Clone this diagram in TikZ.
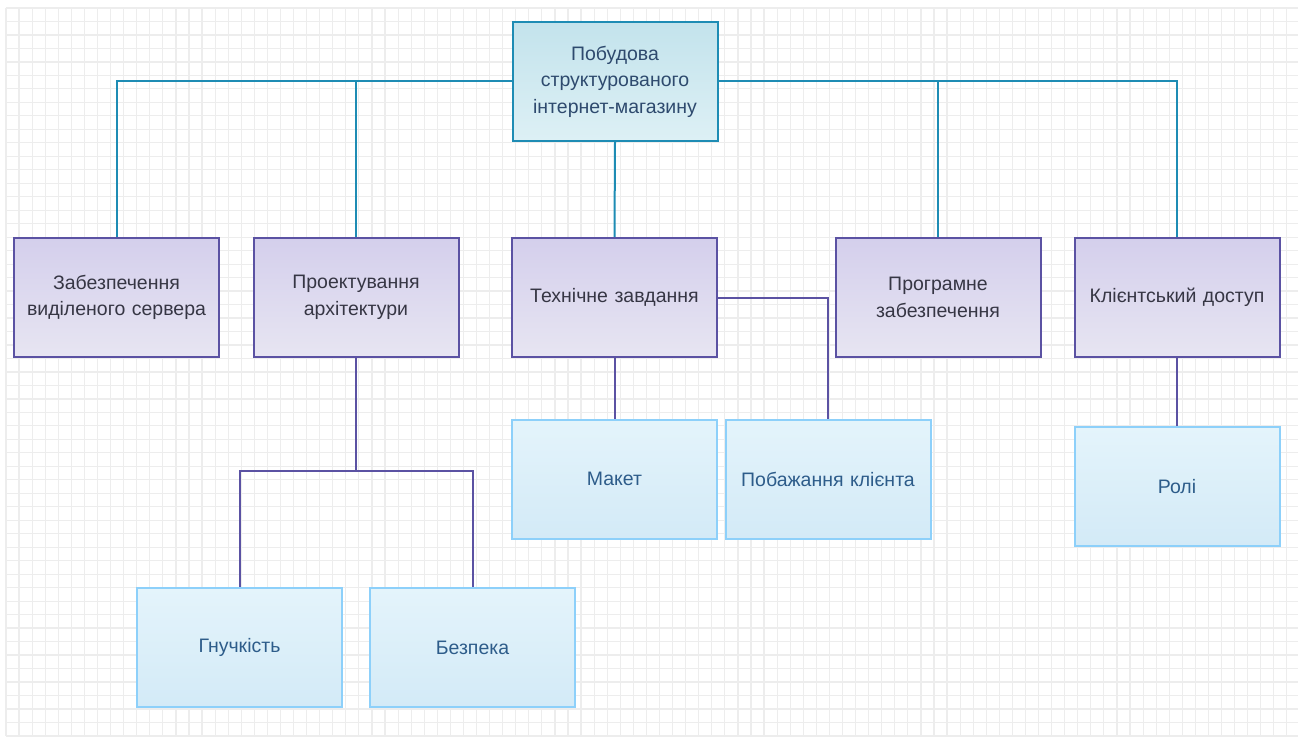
\documentclass[tikz,border=0pt]{standalone}
\usepackage{fontspec}
\setmainfont{Liberation Sans}
\begin{document}
\begin{tikzpicture}[x=1pt,y=-1pt,
  every node/.style={inner sep=0pt, align=center, font=\fontsize{19.5}{26.5}\selectfont},
  box/.style={draw, line width=2pt, minimum width=205pt, minimum height=119pt, text width=202pt},
  rootbox/.style={box, draw=rootline, top color=rootA, bottom color=rootB, text=roottext},
  midbox/.style={box, draw=midline, top color=midA, bottom color=midB, text=midtext},
  leafbox/.style={box, draw=leafline, top color=leafA, bottom color=leafB, text=leaftext},
  tealwire/.style={draw=rootline, line width=2pt},
  purplewire/.style={draw=midline, line width=2pt}]
\definecolor{rootline}{HTML}{1E8CB4}
\definecolor{rootA}{HTML}{C3E3EC}
\definecolor{rootB}{HTML}{DDF0F5}
\definecolor{roottext}{HTML}{2E4A6E}
\definecolor{midline}{HTML}{5B52A3}
\definecolor{midA}{HTML}{D4CFEC}
\definecolor{midB}{HTML}{E7E5F2}
\definecolor{midtext}{HTML}{363644}
\definecolor{leafline}{HTML}{8DD0FA}
\definecolor{leafA}{HTML}{E4F4FB}
\definecolor{leafB}{HTML}{D3EAF7}
\definecolor{leaftext}{HTML}{2D5C8A}
\definecolor{gridline}{HTML}{EDEDED}

% page and background grid
\fill[white] (0,0) rectangle (1301,738);
\useasboundingbox (0,0) rectangle (1301,738);
\foreach \i in {0,...,98} {
  \draw[gridline, line width=1.2pt] ({6+13.07*\i},8) -- ({6+13.07*\i},736);
}
\foreach \j in {0,...,54} {
  \draw[gridline, line width=1.2pt] (6,{8+13.48*\j}) -- (1298,{8+13.48*\j});
}

% root
\node[rootbox] (root) at (615,81.5) {Побудова\\структурованого\\інтернет-магазину};

% second level
\node[midbox] (srv) at (116.5,297.5) {Забезпечення\\виділеного сервера};
\node[midbox] (arch) at (356,297.5) {Проектування\\архітектури};
\node[midbox] (spec) at (614.5,297.5) {Технічне завдання};
\node[midbox] (soft) at (938,297.5) {Програмне\\забезпечення};
\node[midbox] (acc) at (1177,297.5) {Клієнтський доступ};

% third level
\node[leafbox] (mock) at (614.5,479) {Макет};
\node[leafbox] (wish) at (828,479) {Побажання клієнта};
\node[leafbox] (roles) at (1177,486.5) {Ролі};
\node[leafbox] (flex) at (239.5,647.5) {Гнучкість};
\node[leafbox] (sec) at (472.5,647.5) {Безпека};

% root connectors
\draw[tealwire] (root.west) -| (srv.north);
\draw[tealwire] (root.west) -| (arch.north);
\draw[tealwire] (root.south) -- (spec.north);
\draw[tealwire] (root.east) -| (soft.north);
\draw[tealwire] (root.east) -| (acc.north);

% lower connectors
\coordinate (split) at (356,471);
\draw[purplewire] (arch.south) -- (split);
\draw[purplewire] (split) -| (flex.north);
\draw[purplewire] (split) -| (sec.north);
\draw[purplewire] (spec.south) -- (mock.north);
\draw[purplewire] (spec.east) -| (wish.north);
\draw[purplewire] (acc.south) -- (roles.north);
\end{tikzpicture}
\end{document}
